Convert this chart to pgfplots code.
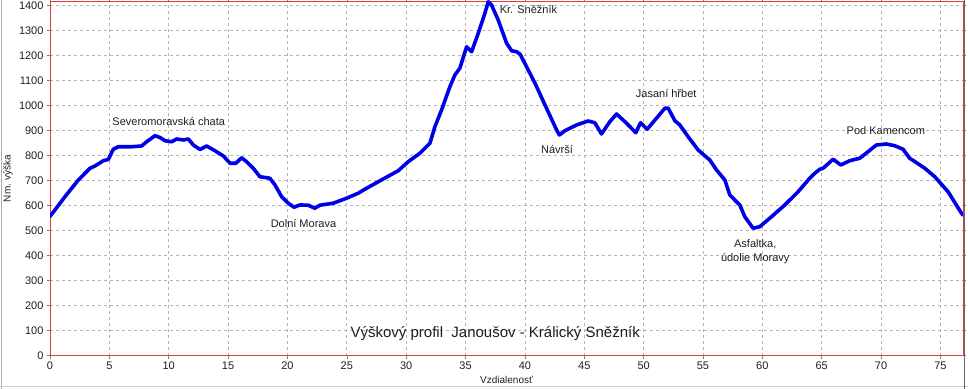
\documentclass[border=0pt]{standalone}
\usepackage{fontspec}
\setmainfont{Liberation Sans}
\usepackage{pgfplots}
\pgfplotsset{compat=1.18}
\definecolor{curve}{RGB}{0,0,230}
\definecolor{axred}{RGB}{225,60,60}
\definecolor{gridgray}{RGB}{180,180,180}
\definecolor{txt}{RGB}{30,30,30}
\pgfplotstableread{
x y
0 557
1.26 636
2.39 703
3.37 750
3.79 759
4.49 780
4.91 785
5.33 826
5.75 836
6.88 836
7.72 839
8.14 856
8.84 880
9.26 873
9.68 860
10.25 856
10.67 867
11.23 863
11.65 867
12.07 843
12.63 825
13.19 839
13.89 820
14.6 799
15.16 770
15.66 770
16.14 792
16.56 776
17.12 750
17.68 716
18.52 710
18.95 683
19.51 636
20.07 610
20.55 594
21.05 603
21.75 602
22.31 590
22.73 602
23.86 610
24.98 630
25.96 650
26.52 666
27.65 696
29.33 740
30.17 776
31.16 810
32.0 850
32.42 916
32.98 983
33.68 1076
34.1 1123
34.52 1150
35.09 1236
35.51 1216
36.07 1290
36.63 1370
36.91 1416
37.19 1403
37.75 1343
38.46 1250
38.88 1220
39.3 1216
39.6 1206
40.85 1090
41.82 990
42.67 903
42.9 883
43.37 900
44.35 923
45.33 939
45.89 932
46.45 887
47.15 936
47.72 967
48.56 930
49.34 892
49.74 932
50.3 906
51.08 950
51.79 990
52.07 990
52.63 940
53.05 923
53.75 876
54.59 823
55.57 783
56.14 743
56.84 703
57.26 643
57.82 616
58.1 603
58.52 556
59.22 510
59.78 516
60.77 556
61.89 603
63.01 656
63.99 710
64.42 730
64.84 746
65.12 750
65.96 786
66.6 763
67.36 780
68.2 790
68.9 816
69.61 843
70.45 847
71.15 840
71.85 826
72.41 790
73.68 750
74.52 716
75.64 656
76.77 570
76.9 562
}\profile
\begin{document}
\begin{tikzpicture}
\useasboundingbox (-50bp,-33.3bp) rectangle (918bp,355.7bp);
\begin{axis}[
 at={(0,0)}, anchor=south west,
 scale only axis, width=913bp, height=354.7bp,
 xmin=0, xmax=76.9, ymin=0, ymax=1419,
 xtick={0,5,...,75}, ytick={0,100,...,1400},
 grid=major,
 major grid style={gridgray, dash pattern=on 3bp off 3bp, line width=0.8bp},
 axis line style={axred, line width=0.9bp},
 tick align=outside, major tick length=3bp,
 tick style={gray, line width=0.6bp},
 ticklabel style={font=\fontsize{11bp}{13bp}\selectfont, text=txt},
 /pgf/number format/assume math mode=true,
 /pgf/number format/1000 sep={},
 xlabel={Vzdialenosť}, ylabel={Nm. výška},
 label style={font=\fontsize{10bp}{12bp}\selectfont, text=txt},
 xlabel style={at={(axis description cs:0.5,-0.069)}, anchor=center},
 ylabel style={at={(axis description cs:-0.046,0.5)}, anchor=center},
]
\addplot[curve, line width=3.6bp, line join=round, line cap=round] table[x=x,y=y] {\profile};
\node[font=\fontsize{11bp}{13bp}\selectfont, text=txt] at (axis cs:10,935) {Severomoravská chata};
\node[font=\fontsize{11bp}{13bp}\selectfont, text=txt] at (axis cs:21.35,530) {Dolní Morava};
\node[font=\fontsize{11bp}{13bp}\selectfont, text=txt] at (axis cs:40.3,1383) {Kr. Sněžník};
\node[font=\fontsize{11bp}{13bp}\selectfont, text=txt] at (axis cs:42.7,823) {Návrší};
\node[font=\fontsize{11bp}{13bp}\selectfont, text=txt] at (axis cs:51.9,1047) {Jasaní hřbet};
\node[font=\fontsize{11bp}{13bp}\selectfont, text=txt] at (axis cs:70.4,900) {Pod Kamencom};
\node[font=\fontsize{11bp}{14bp}\selectfont, text=txt, align=center] at (axis cs:59.4,415) {Asfaltka,\\údolie Moravy};
\node[font=\fontsize{15bp}{17bp}\selectfont, text=txt] at (axis cs:37.5,87) {Výškový profil\ \ Janoušov - Králický Sněžník};
\end{axis}
\draw[gray!60, line width=1bp] (-48.5bp,-33.3bp) -- (-48.5bp,355.7bp);
\draw[gray!40, line width=1bp] (-50bp,-31bp) -- (918bp,-31bp);
\draw[gray!80!black, line width=1.5bp] (914.5bp,-33.3bp) -- (914.5bp,355.7bp);
\end{tikzpicture}
\end{document}
